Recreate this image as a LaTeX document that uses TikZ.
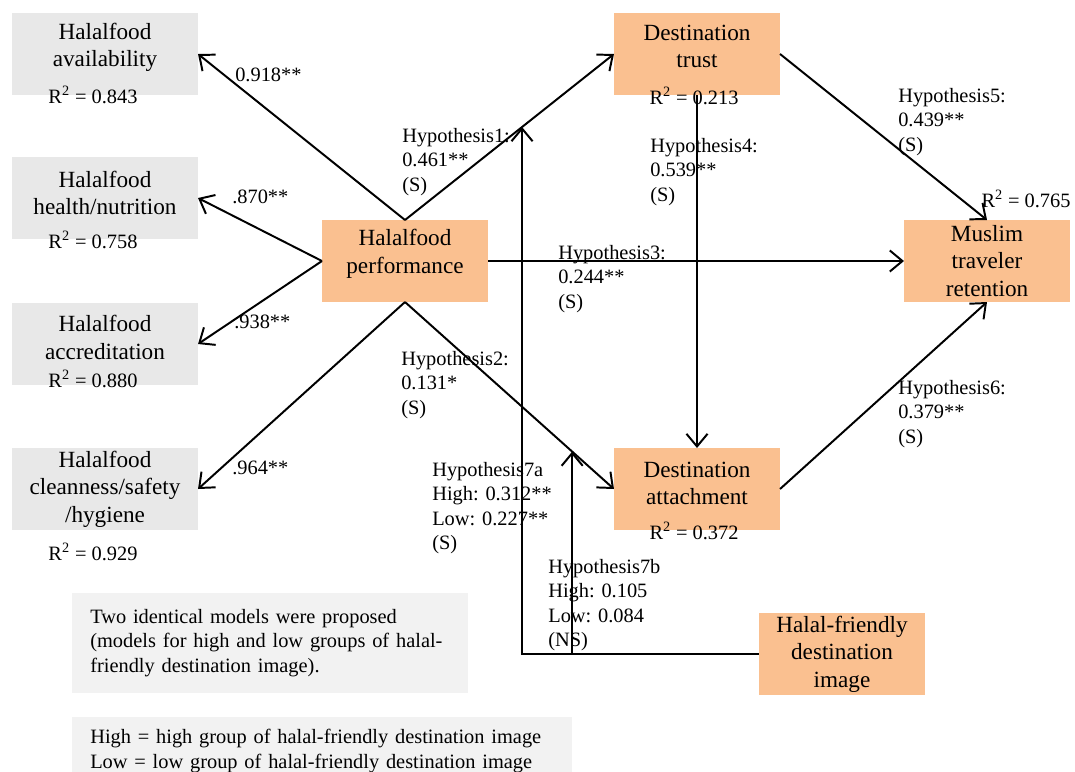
\documentclass[tikz,border=0pt]{standalone}
\usepackage{fontspec}
\setmainfont{Liberation Serif}
\usetikzlibrary{arrows.meta,calc}

\definecolor{boxorange}{RGB}{250,192,144}
\definecolor{boxgray}{RGB}{232,232,232}
\definecolor{notegray}{RGB}{242,242,242}

\begin{document}
\begin{tikzpicture}[x=0.025cm,y=-0.025cm,
    indicator/.style={fill=boxgray, minimum width=4.65cm, minimum height=2.07cm, outer sep=0pt},
    construct/.style={fill=boxorange, minimum width=4.15cm, minimum height=2.05cm, outer sep=0pt},
    boxtext/.style={align=center, inner sep=0pt, font=\fontsize{16.5}{19.5}\selectfont},
    rsq/.style={inner sep=0pt, font=\fontsize{14.5}{17.4}\selectfont},
    coef/.style={inner sep=0pt, align=left, font=\fontsize{14.5}{17.4}\selectfont},
    note/.style={fill=notegray, anchor=north west, align=left, inner xsep=0.45cm,
        inner ysep=0.4cm, font=\fontsize{14.5}{17.4}\selectfont},
    link/.style={line width=1.4pt, -{Straight Barb[length=9pt,width=15pt]}},
    bareline/.style={line width=1.4pt}]

    \useasboundingbox (0,0) rectangle (1075,771);

    % Indicators of halal food performance
    \node[indicator, label={[boxtext, yshift=4.6pt]center:{Halalfood\\availability}}] (avail) at (105,54) {};
    \node[rsq] (r2avail) at (93,95) {R\textsuperscript{2} = 0.843};
    \node[indicator, label={[boxtext, yshift=3.5pt]center:{Halalfood\\health/nutrition}}] (health) at (105,198) {};
    \node[rsq] (r2health) at (93,240) {R\textsuperscript{2} = 0.758};
    \node[indicator, label={[boxtext, yshift=4.6pt]center:{Halalfood\\accreditation}}] (accred) at (105,344) {};
    \node[rsq] (r2accred) at (93,379) {R\textsuperscript{2} = 0.880};
    \node[indicator, label={[boxtext]center:{Halalfood\\cleanness/safety\\/hygiene}}] (clean) at (105,489) {};
    \node[rsq] (r2clean) at (93,552) {R\textsuperscript{2} = 0.929};

    % Constructs
    \node[construct, label={[boxtext, yshift=5pt]center:{Halalfood\\performance}}] (perf) at (405,261) {};
    \node[construct, label={[boxtext, yshift=5.3pt]center:{Destination\\trust}}] (trust) at (697,54) {};
    \node[rsq] (r2trust) at (694,96) {R\textsuperscript{2} = 0.213};
    \node[construct, label={[boxtext, yshift=4pt]center:{Destination\\attachment}}] (attach) at (697,489) {};
    \node[rsq] (r2attach) at (694,531) {R\textsuperscript{2} = 0.372};
    \node[construct, label={[boxtext]center:{Muslim\\traveler\\retention}}] (retain) at (987,261) {};
    \node[rsq] (r2retain) at (1026,199) {R\textsuperscript{2} = 0.765};
    \node[construct, label={[boxtext]center:{Halal-friendly\\destination\\image}}] (image) at (842,654) {};

    % Notes
    \node[note, text width=9cm] (modelnote) at (72,593)
        {Two identical models were proposed\\(models for high and low groups of halal-\\friendly destination image).};
    \node[note, inner ysep=0.3cm, text width=11.6cm] (groupnote) at (72,717)
        {High = high group of halal-friendly destination image\\Low = low group of halal-friendly destination image};

    % Loadings
    \draw[link] (perf.north) -- (avail.east);
    \draw[link] (perf.west) -- (health.east);
    \draw[link] (perf.west) -- (accred.east);
    \draw[link] (perf.south) -- (clean.east);

    % Structural paths
    \draw[link] (perf.north) -- (trust.west);
    \draw[link] (perf.east) -- (retain.west);
    \draw[link] (perf.south) -- (attach.west);
    \draw[link] (trust.south) -- (attach.north);
    \draw[link] (trust.east) -- (retain.north);
    \draw[link] (attach.east) -- (retain.south);

    % Moderation by destination image
    \coordinate (m7a) at ($(perf.north)!0.56!(trust.west)$);
    \coordinate (m7b) at ($(perf.south)!0.80!(attach.west)$);
    \draw[link] (image.west) -- (m7a |- image.west) -- (m7a);
    \draw[link] (m7b |- image.west) -- (m7b);

    % Coefficients
    \node[coef, anchor=west] (l918) at (235,75) {0.918**};
    \node[coef, anchor=west] (l870) at (232,197) {.870**};
    \node[coef, anchor=west] (l938) at (234,322) {.938**};
    \node[coef, anchor=west] (l964) at (232,468) {.964**};
    \node[coef, anchor=north west] (h1lbl) at (402,128) {Hypothesis1:\\0.461**\\(S)};
    \node[coef, anchor=north west] (h2lbl) at (401,351) {Hypothesis2:\\0.131*\\(S)};
    \node[coef, anchor=north west] (h3lbl) at (558,245) {Hypothesis3:\\0.244**\\(S)};
    \node[coef, anchor=north west] (h4lbl) at (650,138) {Hypothesis4:\\0.539**\\(S)};
    \node[coef, anchor=north west] (h5lbl) at (898,88) {Hypothesis5:\\0.439**\\(S)};
    \node[coef, anchor=north west] (h6lbl) at (898,380) {Hypothesis6:\\0.379**\\(S)};
    \node[coef, anchor=north west] (h7albl) at (432,462) {Hypothesis7a\\High: 0.312**\\Low: 0.227**\\(S)};
    \node[coef, anchor=north west] (h7blbl) at (548,559) {Hypothesis7b\\High: 0.105\\Low: 0.084\\(NS)};

\end{tikzpicture}
\end{document}
